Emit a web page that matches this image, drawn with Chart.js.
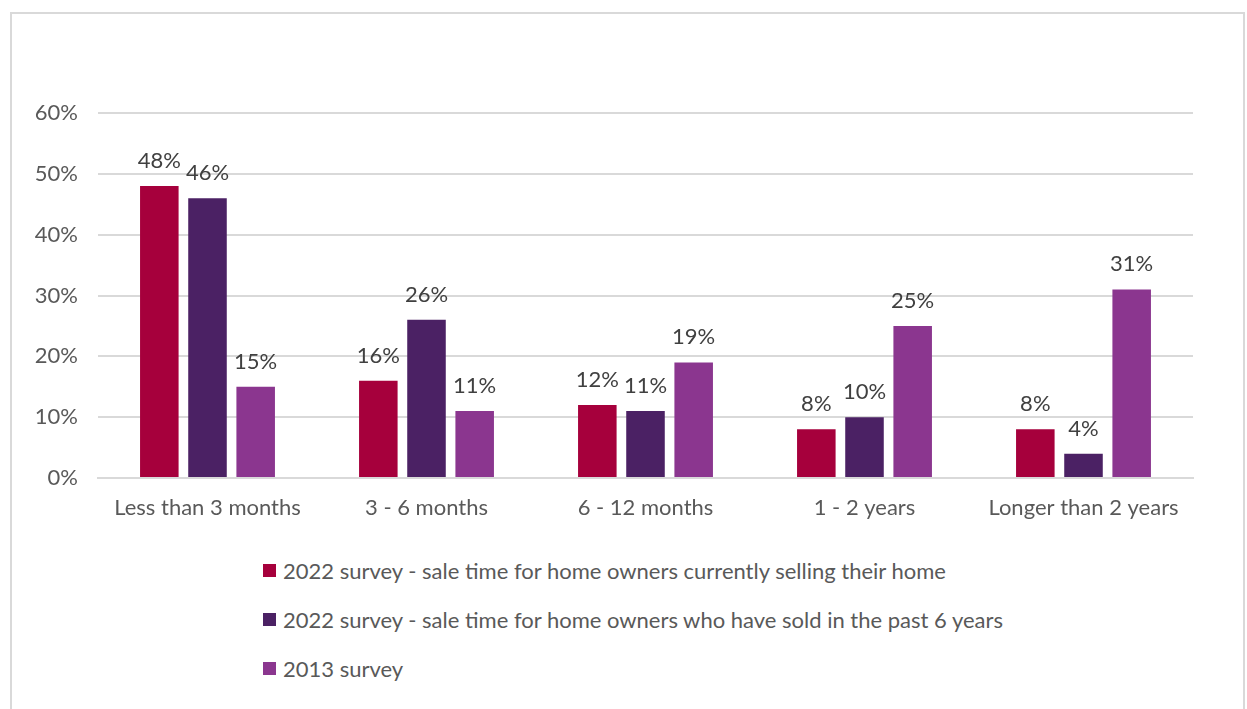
<!DOCTYPE html>
<html>
<head>
<meta charset="utf-8">
<script src="https://cdn.jsdelivr.net/npm/chart.js@4.4.0/dist/chart.umd.min.js"></script>
<style>
  body { margin: 0; background: #fff; font-family: Lato, sans-serif; }
  #frame { position: absolute; left: 10px; top: 12px; width: 1235px; height: 720px;
           border: 2px solid #d9d9d9; box-sizing: border-box; }
  #wrap { position: absolute; left: 0; top: 0; width: 1231px; height: 530px; }
  #legend { position: absolute; left: 251px; top: 532px; }
  .item { display: flex; align-items: center; height: 49px; color: #595959; font-size: 22px; }
  .box { width: 13px; height: 13px; margin-right: 7px; }
</style>
</head>
<body>
<div id="frame">
  <div id="wrap"><canvas id="barChart"></canvas></div>
  <div id="legend"></div>
</div>
<script>
var categories = ["Less than 3 months", "3 - 6 months", "6 - 12 months", "1 - 2 years", "Longer than 2 years"];
var seriesNames = [
  "2022 survey - sale time for home owners currently selling their home",
  "2022 survey - sale time for home owners who have sold in the past 6 years",
  "2013 survey"
];
var currentlySelling = [48, 16, 12, 8, 8];
var soldPast6Years = [46, 26, 11, 10, 4];
var survey2013 = [15, 11, 19, 25, 31];
var colours = ["#a6003c", "#4b2164", "#8b368f"];

var textColour = "#595959";

// draws the value above each bar
var barLabels = {
  id: "barLabels",
  afterDatasetsDraw: function (chart) {
    var ctx = chart.ctx;
    ctx.save();
    ctx.font = "22px Lato";
    ctx.fillStyle = "#404040";
    ctx.textAlign = "center";
    ctx.textBaseline = "alphabetic";
    chart.data.datasets.forEach(function (ds, i) {
      chart.getDatasetMeta(i).data.forEach(function (bar, j) {
        ctx.fillText(ds.data[j] + "%", bar.x, bar.y - 18);
      });
    });
    ctx.restore();
  }
};

var ctx_bar = document.getElementById("barChart").getContext("2d");
var myBarChart = new Chart(ctx_bar, {
  type: "bar",
  data: {
    labels: categories,
    datasets: [
      { label: seriesNames[0], data: currentlySelling, backgroundColor: colours[0] },
      { label: seriesNames[1], data: soldPast6Years, backgroundColor: colours[1] },
      { label: seriesNames[2], data: survey2013, backgroundColor: colours[2] }
    ]
  },
  options: {
    responsive: true,
    maintainAspectRatio: false,
    animation: false,
    categoryPercentage: 0.66,
    barPercentage: 0.8,
    layout: { padding: { top: 99, right: 50, left: 0, bottom: 0 } },
    plugins: { legend: { display: false }, tooltip: { enabled: false } },
    scales: {
      x: {
        grid: { display: false },
        border: { color: "#d9d9d9", width: 2 },
        ticks: { color: textColour, font: { family: "Lato", size: 22 }, padding: 9 },
        afterFit: function (scale) { scale.height = 66; }
      },
      y: {
        min: 0, max: 60,
        grid: { color: "#d9d9d9", lineWidth: 2, drawTicks: false },
        border: { display: false },
        ticks: { stepSize: 10, color: textColour, font: { family: "Lato", size: 22 }, padding: 20,
                 callback: function (v) { return v + "%"; } },
        afterFit: function (scale) { scale.width = 86; }
      }
    }
  },
  plugins: [barLabels]
});

// legend as a vertical list, left aligned
var legend = document.getElementById("legend");
seriesNames.forEach(function (name, i) {
  var row = document.createElement("div");
  row.className = "item";
  var box = document.createElement("span");
  box.className = "box";
  box.style.background = colours[i];
  row.appendChild(box);
  row.appendChild(document.createTextNode(name));
  legend.appendChild(row);
});
</script>
</body>
</html>
